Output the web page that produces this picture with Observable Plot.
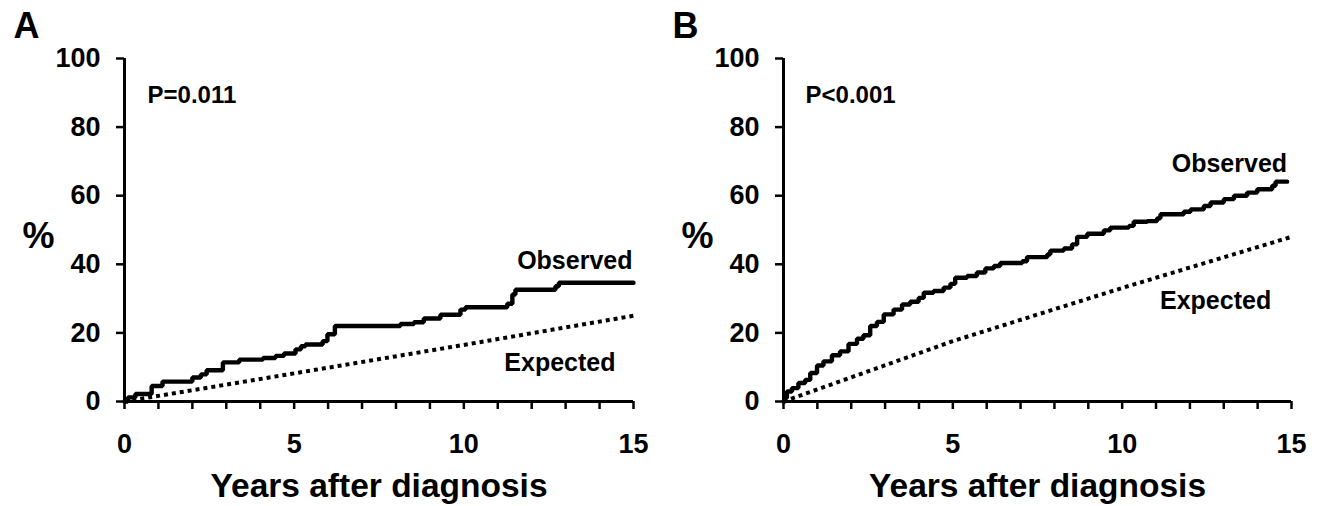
<!DOCTYPE html>
<html>
<head>
<meta charset="utf-8">
<script src="https://cdn.jsdelivr.net/npm/d3@7"></script>
<script src="https://cdn.jsdelivr.net/npm/@observablehq/plot@0.6"></script>
<style>
  html, body { margin: 0; padding: 0; background: #fff; }
  #wrap { display: flex; flex-direction: row; width: 1326px; height: 506px; overflow: hidden; }
  #wrap svg { display: block; }
</style>
</head>
<body>
<div id="wrap"></div>
<script>
// ---------- Data ----------
const panelLetters = ["A", "B"];
const pLabels = ["P=0.011", "P<0.001"];
const seriesNames = ["Observed", "Expected"];
const xLabel = "Years after diagnosis";
const yLabel = "%";
const yTicks = [0, 20, 40, 60, 80, 100];
const xTicks = [0, 1, 2, 3, 4, 5, 6, 7, 8, 9, 10, 11, 12, 13, 14, 15];
const xTickLabels = [0, 5, 10, 15];

// Panel A: observed (step function change points)
const aObsYears = [0, 0.1, 0.32, 0.8, 1.12, 2.0, 2.25, 2.42, 2.9, 3.38, 4.08, 4.45, 4.7, 5.04, 5.2, 5.33, 5.84, 5.98, 6.2, 8.13, 8.53, 8.82, 9.31, 9.9, 10.05, 11.28, 11.43, 11.52, 12.7, 12.8, 15];
const aObsPct   = [0, 1.2, 2.2, 4.5, 5.8, 7.0, 7.9, 9.1, 11.4, 12.2, 12.7, 13.3, 14.0, 15.2, 16.1, 16.6, 17.6, 19.6, 22.0, 22.6, 23.1, 24.2, 25.3, 26.8, 27.5, 28.5, 31.2, 32.6, 33.6, 34.6, 34.6];
// Panel A: expected
const aExpYears = [0, 5, 10, 15];
const aExpPct   = [0, 8.2, 16.5, 25.0];

// Panel B: observed
const bObsYears = [0, 0.05, 0.1, 0.25, 0.44, 0.64, 0.79, 0.99, 1.18, 1.43, 1.67, 1.92, 2.17, 2.36, 2.56, 2.76, 2.96, 3.25, 3.5, 3.74, 3.99, 4.14, 4.43, 4.73, 4.93, 5.07, 5.42, 5.71, 5.96, 6.21, 6.4, 7.05, 7.19, 7.79, 7.88, 8.28, 8.52, 8.67, 8.97, 9.46, 9.65, 10.2, 10.34, 10.74, 11.03, 11.13, 11.82, 12.02, 12.41, 12.61, 13.0, 13.3, 13.69, 13.99, 14.43, 14.53, 14.87];
const bObsPct   = [0, 1.0, 2.9, 3.9, 5.4, 6.3, 8.3, 10.5, 11.7, 13.5, 14.6, 16.8, 18.3, 19.3, 22.0, 23.2, 25.4, 26.8, 28.3, 29.1, 30.2, 31.7, 32.2, 33.2, 34.3, 36.1, 36.6, 37.6, 38.8, 39.5, 40.4, 40.9, 42.1, 42.9, 44.0, 44.6, 45.8, 48.0, 48.9, 49.9, 50.7, 51.2, 52.4, 52.6, 53.4, 54.6, 55.3, 56.0, 57.0, 58.0, 59.0, 60.0, 60.9, 61.9, 62.9, 64.1, 64.1];
// Panel B: expected
const bExpYears = [0, 5, 10, 15];
const bExpPct   = [0, 17.6, 33.1, 48.0];

// ---------- Drawing ----------
const FONT = "'Liberation Sans', Arial, Helvetica, sans-serif";
const zip = (xs, ys) => xs.map((x, i) => ({x, y: ys[i]}));

function panel(cfg) {
  const obs = zip(cfg.obsYears, cfg.obsPct);
  const exp = zip(cfg.expYears, cfg.expPct);
  return Plot.plot({
    width: 663,
    height: 506,
    marginLeft: cfg.marginLeft,
    marginRight: cfg.marginRight,
    marginTop: 58,
    marginBottom: 105,
    style: {fontFamily: FONT, fontWeight: "bold", color: "#000", background: "#fff", overflow: "visible"},
    x: {domain: [0, 15], nice: false},
    y: {domain: [0, 100], nice: false},
    marks: [
      Plot.axisY({ticks: yTicks, tickSize: 8, tickPadding: 16, strokeWidth: 2.5, fontSize: 27, fontWeight: "bold", label: null}),
      Plot.axisX({ticks: xTicks, tickFormat: d => xTickLabels.includes(d) ? String(d) : "", tickSize: 8, tickPadding: 24, strokeWidth: 2.5, fontSize: 27, fontWeight: "bold", label: null}),
      Plot.ruleX([0], {y1: 0, y2: 100, strokeWidth: 3}),
      Plot.ruleY([0], {x1: 0, x2: 15, strokeWidth: 3}),
      Plot.line(exp, {x: "x", y: "y", stroke: "#000", strokeWidth: 4, strokeDasharray: "4,4", strokeLinecap: "butt"}),
      Plot.line(obs, {x: "x", y: "y", curve: "step-after", stroke: "#000", strokeWidth: 4.4, strokeLinejoin: "miter"}),
      Plot.text([cfg.letter], {frameAnchor: "top-left", dx: -111, dy: -21, text: d => d, lineAnchor: "bottom", textAnchor: "start", fontSize: 36, fontWeight: "bold", fill: "#000"}),
      Plot.text([yLabel], {frameAnchor: "left", dx: -102, dy: 18, text: d => d, lineAnchor: "bottom", textAnchor: "start", fontSize: 36, fontWeight: "bold", fill: "#000"}),
      Plot.text([cfg.p], {x: cfg.pX, y: 87.1, text: d => d, lineAnchor: "bottom", textAnchor: "start", fontSize: 24, fontWeight: "bold", fill: "#000"}),
      Plot.text([seriesNames[0]], {x: cfg.obsLabel[0], y: cfg.obsLabel[1], text: d => d, lineAnchor: "bottom", textAnchor: "end", fontSize: 25, fontWeight: "bold", fill: "#000"}),
      Plot.text([seriesNames[1]], {x: cfg.expLabel[0], y: cfg.expLabel[1], text: d => d, lineAnchor: "bottom", textAnchor: "end", fontSize: 25, fontWeight: "bold", fill: "#000"}),
      Plot.text([xLabel], {frameAnchor: "bottom", dy: 95, text: d => d, lineAnchor: "bottom", textAnchor: "middle", fontSize: 33.5, fontWeight: "bold", fill: "#000"})
    ]
  });
}

const wrap = document.getElementById("wrap");
wrap.appendChild(panel({
  letter: panelLetters[0], p: pLabels[0], pX: 0.68,
  marginLeft: 124, marginRight: 30,
  obsYears: aObsYears, obsPct: aObsPct, expYears: aExpYears, expPct: aExpPct,
  obsLabel: [14.97, 38.5], expLabel: [14.47, 8.8]
}));
wrap.appendChild(panel({
  letter: panelLetters[1], p: pLabels[1], pX: 0.65,
  marginLeft: 120, marginRight: 35,
  obsYears: bObsYears, obsPct: bObsPct, expYears: bExpYears, expPct: bExpPct,
  obsLabel: [14.87, 66.8], expLabel: [14.4, 27.1]
}));
</script>
</body>
</html>
